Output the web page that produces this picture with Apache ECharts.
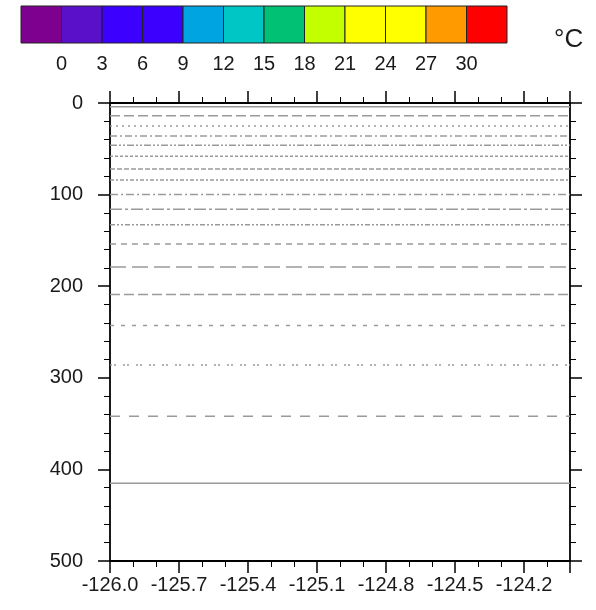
<!DOCTYPE html>
<html>
<head>
<meta charset="utf-8">
<script src="https://cdn.jsdelivr.net/npm/echarts@6/dist/echarts.min.js"></script>
<style>
  html, body { margin: 0; padding: 0; background: #fff; }
  #chart { width: 596px; height: 610px; }
</style>
</head>
<body>
<div id="chart"></div>
<script>
// colour bar: one box per 3 degC class, labels sit on the box edges
const barColors = ['#7d008e', '#5a0fc8', '#3c00ff', '#3c00ff', '#00a4e0', '#00c6c6',
  '#00c174', '#c4ff00', '#ffff00', '#ffff00', '#ff9a00', '#ff0000'];
const barEdges = [-3, 0, 3, 6, 9, 12, 15, 18, 21, 24, 27, 30, 33];
const barLabels = [0, 3, 6, 9, 12, 15, 18, 21, 24, 27, 30];

// section limits
const lonMin = -126.0;
const lonMax = -124.0;
const depthMax = 500;

// depth (m) of each contour line (temperature is flat along the section)
const contourDepths = [4, 14, 25, 36, 46, 58, 72, 84, 100, 116, 133, 154, 179, 209, 243, 286, 342, 415];

// NCL-like dash patterns, one per contour
const dashPatterns = [
  'solid', [10, 4], [2, 4], [7, 3, 2, 3], [7, 2, 2, 2, 2, 2], [3, 2], [5, 2],
  [4, 2, 2, 2], [8, 3, 2, 3], [12, 3, 3, 3], [5, 2, 2, 2, 2, 2], [6, 5], [16, 6],
  [10, 4], [4, 7], [2, 2, 2, 7], [10, 9], 'solid'
];

const fontFamily = 'Liberation Sans, Arial, sans-serif';

const chart = echarts.init(document.getElementById('chart'), null, { renderer: 'canvas' });

const contourSeries = contourDepths.map((d, i) => ({
  type: 'line',
  xAxisIndex: 0,
  yAxisIndex: 0,
  data: [[lonMin, d], [lonMax, d]],
  showSymbol: false,
  silent: true,
  lineStyle: { color: '#9a9a9a', width: 1.5, type: dashPatterns[i % dashPatterns.length] },
  z: 1
}));

const boxData = barColors.map((c, i) => ({ value: [barEdges[i], barEdges[i + 1]], itemStyle: { color: c } }));

const axisLine = { show: true, onZero: false, lineStyle: { color: '#000', width: 1.8 } };
const majorTick = { show: true, inside: false, length: 12, lineStyle: { color: '#000', width: 1.5 } };
const minorTick = { show: true, length: 6, lineStyle: { color: '#000', width: 1 } };

chart.setOption({
  animation: false,
  backgroundColor: '#fff',
  textStyle: { fontFamily: fontFamily },
  grid: [
    { left: 110, right: 26, top: 103, bottom: 49, containLabel: false },
    { left: 21, top: 6, width: 486, height: 37, containLabel: false }
  ],
  xAxis: [
    {
      type: 'value', gridIndex: 0, position: 'bottom',
      min: lonMin, max: lonMax, interval: 0.3,
      axisLine: axisLine, axisTick: majorTick,
      minorTick: Object.assign({ splitNumber: 3 }, minorTick),
      splitLine: { show: false },
      axisLabel: {
        show: true, margin: 14, fontSize: 20, color: '#1a1a1a', showMaxLabel: false,
        formatter: v => v.toFixed(1)
      }
    },
    {
      type: 'value', gridIndex: 0, position: 'top',
      min: lonMin, max: lonMax, interval: 0.3,
      axisLine: axisLine, axisTick: majorTick,
      minorTick: Object.assign({ splitNumber: 3 }, minorTick),
      splitLine: { show: false }, axisLabel: { show: false }
    },
    {
      type: 'value', gridIndex: 1,
      min: barEdges[0], max: barEdges[barEdges.length - 1], interval: 3,
      axisLine: { show: false }, axisTick: { show: false }, splitLine: { show: false },
      axisLabel: {
        show: true, margin: 11, fontSize: 20, color: '#1a1a1a',
        formatter: v => (barLabels.indexOf(v) >= 0 ? String(v) : '')
      }
    }
  ],
  yAxis: [
    {
      type: 'value', gridIndex: 0, position: 'left', inverse: true,
      min: 0, max: depthMax, interval: 100,
      axisLine: axisLine, axisTick: majorTick,
      minorTick: Object.assign({ splitNumber: 5 }, minorTick),
      splitLine: { show: false },
      axisLabel: { show: true, margin: 27, fontSize: 20, color: '#1a1a1a' }
    },
    {
      type: 'value', gridIndex: 0, position: 'right', inverse: true,
      min: 0, max: depthMax, interval: 100,
      axisLine: axisLine, axisTick: majorTick,
      minorTick: Object.assign({ splitNumber: 5 }, minorTick),
      splitLine: { show: false }, axisLabel: { show: false }
    },
    {
      type: 'value', gridIndex: 1, min: 0, max: 1, show: false
    }
  ],
  graphic: [
    {
      type: 'text', left: 554, top: 27,
      style: { text: '°C', fontSize: 26, fill: '#1a1a1a', fontFamily: fontFamily }
    }
  ],
  series: contourSeries.concat([
    {
      type: 'custom',
      xAxisIndex: 2,
      yAxisIndex: 2,
      silent: true,
      data: boxData,
      renderItem: (params, api) => {
        const p0 = api.coord([api.value(0), 1]);
        const p1 = api.coord([api.value(1), 0]);
        return {
          type: 'rect',
          shape: { x: p0[0], y: p0[1], width: p1[0] - p0[0], height: p1[1] - p0[1] },
          style: { fill: api.visual('color'), stroke: '#222', lineWidth: 1 }
        };
      }
    }
  ])
});
</script>
</body>
</html>
